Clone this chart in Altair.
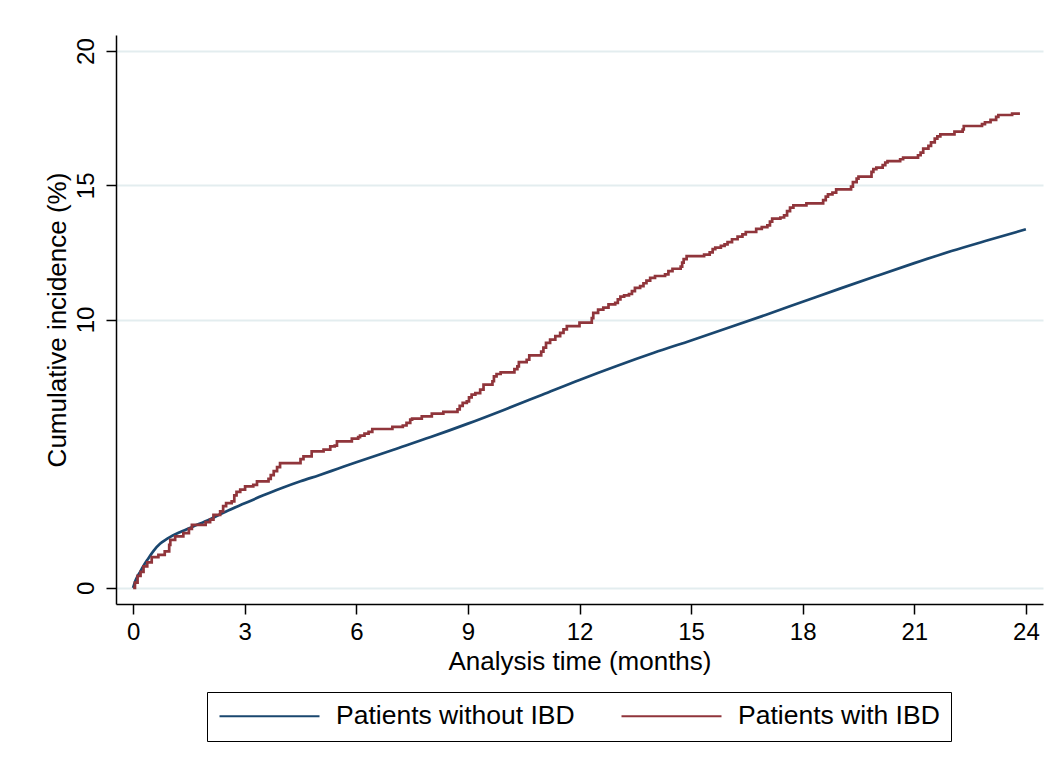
import altair as alt
import pandas as pd

series_names = ["Patients without IBD", "Patients with IBD"]
series_colors = ["#1a476f", "#90353b"]

# Patients without IBD (smooth curve)
blue_t = [0, 0.05, 0.1, 0.19, 0.27, 0.4, 0.55, 0.73, 0.87, 1.0, 1.3, 1.6, 2.07, 2.5,
          3.0, 3.5, 4.0, 4.5, 5.0, 5.5, 6.0, 7.0, 8.0, 9.0, 10.0, 11.0, 12.0, 13.0,
          14.0, 15.0, 16.0, 17.0, 18.0, 19.0, 20.0, 21.0, 22.0, 23.0, 24.0]
blue_y = [0, 0.22, 0.38, 0.6, 0.8, 1.08, 1.38, 1.65, 1.79, 1.9, 2.1, 2.28, 2.56, 2.85,
          3.15, 3.45, 3.72, 3.97, 4.2, 4.44, 4.68, 5.15, 5.62, 6.12, 6.65, 7.2, 7.75, 8.27,
          8.76, 9.22, 9.69, 10.17, 10.66, 11.15, 11.63, 12.1, 12.55, 12.96, 13.36]

# Patients with IBD (step curve)
red_t = [0, 0.05, 0.12, 0.2, 0.28, 0.38, 0.5, 0.68, 0.85, 0.97, 1.0, 1.13, 1.35, 1.5,
         1.58, 1.95, 2.07, 2.16, 2.34, 2.42, 2.5, 2.65, 2.72, 2.78, 2.88, 3.01, 3.23,
         3.33, 3.64, 3.7, 3.78, 3.87, 3.95, 4.5, 4.58, 4.8, 5.12, 5.3, 5.42, 5.48, 5.88,
         6.05, 6.1, 6.22, 6.33, 6.43, 6.97, 7.25, 7.35, 7.45, 7.5, 7.76, 8.03, 8.34,
         8.72, 8.78, 8.86, 8.97, 9.03, 9.1, 9.2, 9.33, 9.42, 9.66, 9.7, 9.77, 9.88,
         10.25, 10.33, 10.37, 10.58, 10.65, 10.97, 11.03, 11.1, 11.21, 11.35, 11.48,
         11.57, 11.66, 12.0, 12.33, 12.37, 12.5, 12.64, 12.78, 12.96, 13.03, 13.1,
         13.2, 13.33, 13.41, 13.49, 13.63, 13.72, 13.8, 13.9, 14.03, 14.3, 14.39, 14.5,
         14.72, 14.76, 14.8, 14.88, 15.35, 15.5, 15.58, 15.65, 15.8, 15.9, 15.98, 16.1,
         16.25, 16.38, 16.47, 16.75, 16.9, 17.05, 17.12, 17.18, 17.4, 17.5, 17.58,
         17.66, 17.75, 18.1, 18.55, 18.62, 18.68, 18.8, 18.9, 19.3, 19.35, 19.45, 19.5,
         19.85, 19.9, 19.98, 20.15, 20.22, 20.28, 20.62, 20.7, 21.1, 21.17, 21.24,
         21.38, 21.45, 21.55, 21.62, 21.7, 22.08, 22.3, 22.33, 22.82, 22.9, 23.05,
         23.2, 23.26, 23.63, 23.84]
red_y = [0, 0.2, 0.45, 0.6, 0.8, 0.95, 1.15, 1.23, 1.36, 1.6, 1.79, 1.92, 2.04, 2.2,
         2.35, 2.45, 2.54, 2.72, 2.85, 3.05, 3.16, 3.22, 3.45, 3.58, 3.66, 3.78, 3.84,
         3.97, 4.06, 4.2, 4.35, 4.5, 4.65, 4.8, 4.9, 5.09, 5.15, 5.27, 5.3, 5.46, 5.56,
         5.62, 5.67, 5.75, 5.81, 5.92, 6.0, 6.05, 6.15, 6.27, 6.31, 6.39, 6.49, 6.56,
         6.65, 6.78, 6.89, 6.95, 7.1, 7.2, 7.26, 7.39, 7.57, 7.7, 7.88, 7.97, 8.03,
         8.15, 8.25, 8.41, 8.5, 8.66, 8.8, 8.95, 9.13, 9.25, 9.38, 9.5,
         9.63, 9.75, 9.88, 10.05, 10.25, 10.37, 10.44, 10.56, 10.62, 10.75, 10.85,
         10.9, 10.95, 11.06, 11.18, 11.24, 11.35, 11.45, 11.55, 11.62, 11.68, 11.8, 11.89,
         11.97, 12.12, 12.25, 12.36, 12.42, 12.5, 12.62, 12.68, 12.74, 12.8, 12.88, 12.99,
         13.09, 13.17, 13.26, 13.38, 13.44, 13.51, 13.65, 13.76, 13.8, 13.88, 14.04,
         14.17, 14.25, 14.33, 14.45, 14.58, 14.66, 14.73, 14.85, 14.95, 15.12, 15.25, 15.32,
         15.5, 15.6, 15.66, 15.75, 15.85, 15.9, 15.97, 16.03, 16.12, 16.22, 16.37,
         16.47, 16.6, 16.74, 16.82, 16.9, 17.0, 17.08, 17.21, 17.28, 17.35, 17.44,
         17.55, 17.62, 17.67, 17.67]

x_ticks = [0, 3, 6, 9, 12, 15, 18, 21, 24]
y_ticks = [0, 10, 15, 20]

FONT = "Liberation Sans"

df_blue = pd.DataFrame({"t": blue_t, "y": blue_y, "group": series_names[0]})
df_red = pd.DataFrame({"t": red_t, "y": red_y, "group": series_names[1]})

x_enc = alt.X(
    "t:Q",
    scale=alt.Scale(domain=[-0.46, 24.46], nice=False, zero=False),
    axis=alt.Axis(
        values=x_ticks, title="Analysis time (months)", grid=False, format="d",
        tickSize=10, tickWidth=1.5, tickColor="black", domainColor="black", domainWidth=1.5,
        labelFont=FONT, labelFontSize=24, labelColor="black", labelPadding=6,
        titleFont=FONT, titleFontSize=26, titleFontWeight="normal", titleColor="black",
        titleY=57, titleBaseline="middle",
    ),
)
y_enc = alt.Y(
    "y:Q",
    scale=alt.Scale(domain=[-0.6, 20.6], nice=False, zero=False),
    axis=alt.Axis(
        values=y_ticks, title="Cumulative incidence (%)", grid=True, format="d",
        gridColor="#e3edef", gridWidth=2,
        tickSize=10, tickWidth=1.5, tickColor="black", domainColor="black", domainWidth=1.5,
        labelFont=FONT, labelFontSize=24, labelColor="black", labelPadding=8,
        labelAngle=270, labelAlign="center", labelBaseline="bottom",
        titleFont=FONT, titleFontSize=26, titleFontWeight="normal", titleColor="black",
        titleAngle=270, titleX=-59, titleBaseline="middle",
    ),
)
color_enc = alt.Color(
    "group:N",
    scale=alt.Scale(domain=series_names, range=series_colors),
    legend=alt.Legend(
        title=None, orient="none", legendX=91, legendY=657, direction="horizontal",
        symbolType="stroke", symbolSize=10000, symbolStrokeWidth=2.2, clipHeight=26,
        labelFont=FONT, labelFontSize=26.5, labelColor="black", labelOffset=15,
        labelLimit=400, columnPadding=45, padding=11,
        strokeColor="black", fillColor="white",
    ),
)

blue = alt.Chart(df_blue).mark_line(strokeWidth=2.7, interpolate="monotone").encode(
    x=x_enc, y=y_enc, color=color_enc
)
red = alt.Chart(df_red).mark_line(strokeWidth=2.7, interpolate="step-after").encode(
    x=x_enc, y=y_enc, color=color_enc
)

chart = (
    alt.layer(blue, red)
    .properties(
        width=927, height=569, autosize="none",
        padding={"left": 108, "top": 27, "right": 7, "bottom": 150},
        background="white",
    )
    .configure_view(stroke=None)
)

chart.save("out.html", embed_options={"renderer": "svg", "actions": False})
